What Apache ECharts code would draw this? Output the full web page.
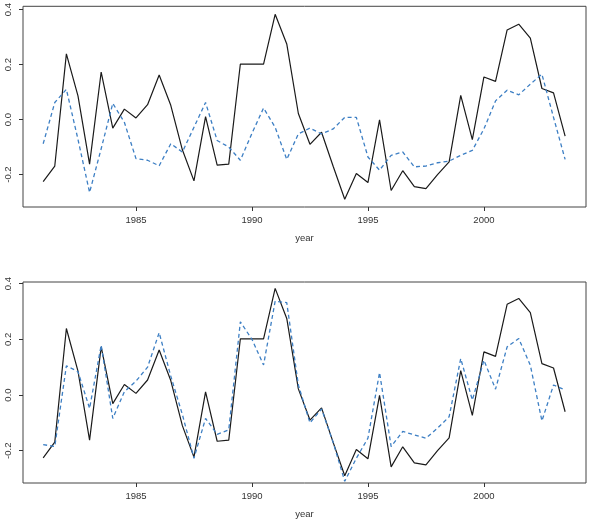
<!DOCTYPE html>
<html>
<head>
<meta charset="utf-8">
<script src="https://cdn.jsdelivr.net/npm/echarts@6/dist/echarts.min.js"></script>
<style>
  html, body { margin: 0; padding: 0; background: #fff; }
  #chart { width: 590px; height: 520px; }
</style>
</head>
<body>
<div id="chart"></div>
<script>
// half-yearly observations
const years = [
  1981, 1981.5, 1982, 1982.5, 1983, 1983.5, 1984, 1984.5, 1985, 1985.5,
  1986, 1986.5, 1987, 1987.5, 1988, 1988.5, 1989, 1989.5, 1990, 1990.5,
  1991, 1991.5, 1992, 1992.5, 1993, 1993.5, 1994, 1994.5, 1995, 1995.5,
  1996, 1996.5, 1997, 1997.5, 1998, 1998.5, 1999, 1999.5, 2000, 2000.5,
  2001, 2001.5, 2002, 2002.5, 2003, 2003.5
];

// observed series (black, same in both panels)
const observed = [
  -0.226, -0.169, 0.239, 0.086, -0.162, 0.173, -0.031, 0.038, 0.006, 0.054,
  0.162, 0.052, -0.110, -0.223, 0.011, -0.166, -0.162, 0.202, 0.202, 0.202,
  0.383, 0.275, 0.022, -0.090, -0.046, -0.170, -0.290, -0.196, -0.229, -0.001,
  -0.258, -0.186, -0.244, -0.251, -0.200, -0.154, 0.088, -0.073, 0.155, 0.139,
  0.326, 0.347, 0.296, 0.113, 0.097, -0.060
];

// fitted series, top panel (blue dashed)
const fitTop = [
  -0.088, 0.062, 0.110, -0.072, -0.265, -0.106, 0.059, -0.010, -0.142, -0.148,
  -0.168, -0.088, -0.118, -0.028, 0.062, -0.076, -0.100, -0.148, -0.050, 0.042,
  -0.028, -0.145, -0.052, -0.031, -0.052, -0.034, 0.008, 0.008, -0.136, -0.184,
  -0.130, -0.118, -0.172, -0.169, -0.157, -0.151, -0.130, -0.112, -0.034, 0.068,
  0.107, 0.090, 0.129, 0.165, 0.008, -0.145
];

// fitted series, bottom panel (blue dashed)
const fitBottom = [
  -0.178, -0.185, 0.105, 0.084, -0.048, 0.179, -0.084, 0.012, 0.050, 0.100,
  0.224, 0.068, -0.070, -0.227, -0.084, -0.141, -0.125, 0.263, 0.200, 0.108,
  0.337, 0.332, 0.036, -0.100, -0.050, -0.170, -0.310, -0.227, -0.155, 0.081,
  -0.185, -0.131, -0.143, -0.155, -0.119, -0.078, 0.131, -0.018, 0.125, 0.021,
  0.173, 0.203, 0.107, -0.093, 0.036, 0.018
];

const xTicks = [1985, 1990, 1995, 2000];
const yTicks = [-0.2, 0.0, 0.2, 0.4];

const pairs = vals => years.map((y, i) => [y, vals[i]]);

const chart = echarts.init(document.getElementById('chart'));

const labelFont = { color: '#333', fontSize: 9.5, fontFamily: 'Liberation Sans, Arial, sans-serif' };

function xAxis(gridIndex) {
  return {
    type: 'value', gridIndex: gridIndex,
    min: 1980.13, max: 2004.4,
    name: 'year', nameLocation: 'middle', nameGap: 26,
    nameTextStyle: labelFont,
    axisLine: { show: false, onZero: false },
    axisTick: { show: true, length: 4, customValues: xTicks, lineStyle: { color: '#333' } },
    axisLabel: Object.assign({
      customValues: xTicks, margin: 8,
      formatter: v => String(v)
    }, labelFont),
    splitLine: { show: false }
  };
}

function yAxis(gridIndex, min, max) {
  return {
    type: 'value', gridIndex: gridIndex,
    min: min, max: max,
    axisLine: { show: false, onZero: false },
    axisTick: { show: true, length: 4, customValues: yTicks, lineStyle: { color: '#333' } },
    axisLabel: Object.assign({
      customValues: yTicks, rotate: 90, margin: 10,
      formatter: v => v.toFixed(1)
    }, labelFont),
    splitLine: { show: false }
  };
}

const obsStyle = { color: '#1a1a1a', width: 1.2 };
const fitStyle = { color: '#3d7fc4', width: 1.3, type: [4, 3] };

chart.setOption({
  animation: false,
  backgroundColor: '#fff',
  grid: [
    { left: 23, top: 5, width: 563, height: 202, show: true, borderColor: '#444', borderWidth: 1 },
    { left: 23, top: 282, width: 563, height: 201, show: true, borderColor: '#444', borderWidth: 1 }
  ],
  xAxis: [xAxis(0), xAxis(1)],
  yAxis: [yAxis(0, -0.318, 0.412), yAxis(1, -0.316, 0.406)],
  series: [
    { type: 'line', xAxisIndex: 0, yAxisIndex: 0, data: pairs(observed), showSymbol: false, lineStyle: obsStyle },
    { type: 'line', xAxisIndex: 0, yAxisIndex: 0, data: pairs(fitTop), showSymbol: false, lineStyle: fitStyle },
    { type: 'line', xAxisIndex: 1, yAxisIndex: 1, data: pairs(observed), showSymbol: false, lineStyle: obsStyle },
    { type: 'line', xAxisIndex: 1, yAxisIndex: 1, data: pairs(fitBottom), showSymbol: false, lineStyle: fitStyle }
  ]
});
</script>
</body>
</html>
